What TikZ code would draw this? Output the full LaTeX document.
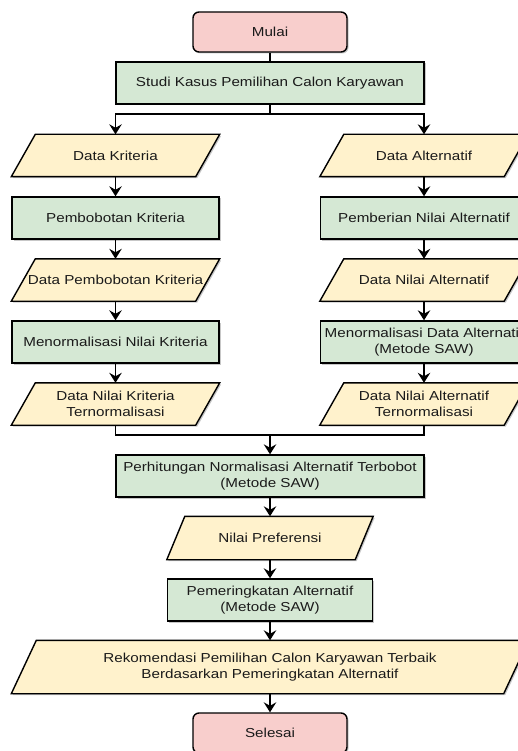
\documentclass[tikz,border=0pt]{standalone}
\usepackage{fontspec}
\setmainfont{Liberation Sans}[FakeStretch=1.17]
\usetikzlibrary{arrows.meta,shadows,backgrounds}
\definecolor{merahmuda}{HTML}{F8CECC}
\definecolor{hijaumuda}{HTML}{D5E8D4}
\definecolor{kuningmuda}{HTML}{FFF2CC}
\definecolor{teks}{HTML}{1A1A1A}
\tikzset{
	bayang/.style={drop shadow={shadow xshift=1.5pt, shadow yshift=-1.5pt, opacity=0.22, fill=black}},
	terminal/.style={draw, bayang, rounded corners=6pt, fill=merahmuda, minimum width=154pt, minimum height=40pt},
	proses/.style={draw, bayang, fill=hijaumuda, minimum width=207pt, minimum height=42pt},
	data/.style={minimum width=183pt, minimum height=41pt},
	jajar/.style={draw, line width=1.4pt, bayang, fill=kuningmuda},
	panah/.style={-{Stealth[length=10pt, width=12.5pt, inset=3.5pt]}},
}
\begin{document}
\begin{tikzpicture}[x=1pt, y=1pt, line width=1.4pt,
	every node/.style={font=\fontsize{13}{15.6}\selectfont, text=teks, align=center, inner sep=1pt}]
		\useasboundingbox (0,0) rectangle (517,-751);

		\node[terminal] (mulai) at (270,-32) {Mulai};
		\node[proses, minimum width=308pt] (studi) at (270,-83) {Studi Kasus Pemilihan Calon Karyawan};

		\node[data] (dk) at (115.5,-155.5) {Data Kriteria};
		\node[proses] (pk) at (115.5,-218) {Pembobotan Kriteria};
		\node[data] (dpk) at (115.5,-280) {\makebox[0pt]{Data Pembobotan Kriteria}};
		\node[proses] (mnk) at (115.5,-342) {Menormalisasi Nilai Kriteria};
		\node[data] (dnkt) at (115.5,-404) {Data Nilai Kriteria\\Ternormalisasi};

		\node[data] (da) at (424,-155.5) {Data Alternatif};
		\node[proses] (pna) at (424,-218) {Pemberian Nilai Alternatif};
		\node[data] (dna) at (424,-280) {Data Nilai Alternatif};
		\node[proses] (mda) at (424,-342) {\makebox[0pt]{Menormalisasi Data Alternatif}\\(Metode SAW)};
		\node[data] (dnat) at (424,-404) {Data Nilai Alternatif\\Ternormalisasi};

		\node[proses, minimum width=308pt] (hitung) at (270,-476) {Perhitungan Normalisasi Alternatif Terbobot\\(Metode SAW)};
		\node[data, minimum width=187pt, minimum height=42pt] (np) at (270,-538) {Nilai Preferensi};
		\node[proses, minimum width=205pt] (pa) at (270,-600) {Pemeringkatan Alternatif\\(Metode SAW)};
		\node[data, minimum width=491pt, minimum height=52pt] (rek) at (270,-667) {Rekomendasi Pemilihan Calon Karyawan Terbaik\\Berdasarkan Pemeringkatan Alternatif};
		\node[terminal] (selesai) at (270,-733) {Selesai};

		\begin{scope}[on background layer]
			\foreach \n/\s in {dk/12, dpk/12, dnkt/12, da/12, dna/12, dnat/12, np/9, rek/12.5}
				\draw[jajar] ([xshift=\s pt]\n.north west) -- ([xshift=\s pt]\n.north east)
					-- ([xshift=-\s pt]\n.south east) -- ([xshift=-\s pt]\n.south west) -- cycle;
		\end{scope}

		\coordinate (cabang) at (270,-114);
		\coordinate (gabung) at (270,-435);

		\draw (mulai) -- (studi);
		\draw (studi) -- (cabang);
		\draw[panah] (cabang) -| (dk);
		\draw[panah] (cabang) -| (da);

		\draw[panah] (dk) -- (pk);
		\draw[panah] (pk) -- (dpk);
		\draw[panah] (dpk) -- (mnk);
		\draw[panah] (mnk) -- (dnkt);

		\draw[panah] (da) -- (pna);
		\draw[panah] (pna) -- (dna);
		\draw[panah] (dna) -- (mda);
		\draw[panah] (mda) -- (dnat);

		\draw (dnkt) |- (gabung);
		\draw (dnat) |- (gabung);
		\draw[panah] (gabung) -- (hitung);

		\draw[panah] (hitung) -- (np);
		\draw[panah] (np) -- (pa);
		\draw[panah] (pa) -- (rek);
		\draw[panah] (rek) -- (selesai);
	\end{tikzpicture}
\end{document}
